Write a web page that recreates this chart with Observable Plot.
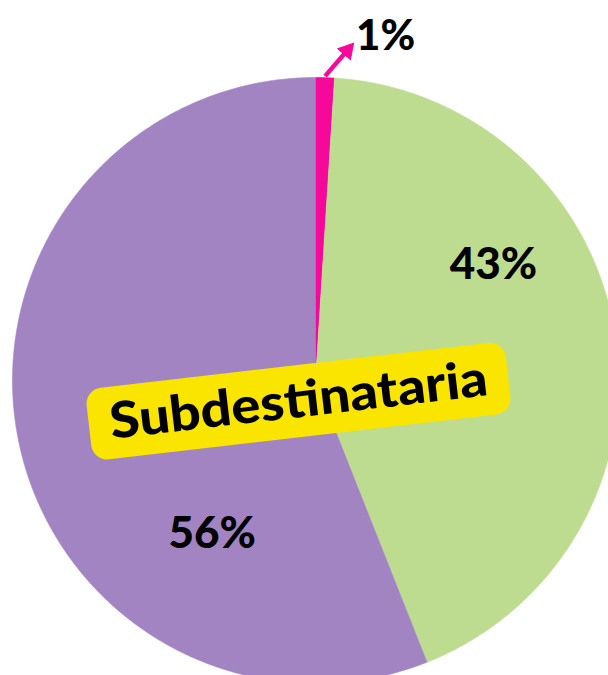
<!DOCTYPE html>
<html><head><meta charset="utf-8">
<script src="https://cdn.jsdelivr.net/npm/d3@7"></script>
<script src="https://cdn.jsdelivr.net/npm/@observablehq/plot@0.6"></script>
<style>html,body{margin:0;padding:0;background:#fff;overflow:hidden;}</style>
</head><body><div id="chart"></div>
<script>
// ---- data ----
const slices = ["Otra", "Verde", "Morado"];
const values = [1, 43, 56];
const labels = ["1%", "43%", "56%"];
const colors = ["#F5089A", "#BEDC8F", "#A284C3"];
const title = "Subdestinataria";

// ---- layout ----
const W = 608, H = 675, CX = 315, CY = 380, R = 303;
const labelPos = [{a: 11.5, r: 1.16}, {a: 57, r: 0.70}, {a: 214, r: 0.61}];
const labelSizes = [42, 44, 44];
const arrowHead = {a: 5.5, r: 1.094};
const box = {x: -0.056, y: -0.068, w: 422, h: 72, rx: 16, rotate: -6.6, size: 50, len: 380};
const font = "Lato, sans-serif";

const rad = d => d * Math.PI / 180;
const arcs = d3.pie().sort(null).value(d => d)(values);
const pts = [];
arcs.forEach((a, i) => {
  pts.push({slice: slices[i], x: 0, y: 0});
  const n = Math.max(2, Math.ceil((a.endAngle - a.startAngle) / rad(0.5)));
  for (let k = 0; k <= n; k++) {
    const t = a.startAngle + (a.endAngle - a.startAngle) * k / n;
    pts.push({slice: slices[i], x: Math.sin(t), y: Math.cos(t)});
  }
});
const labelData = labels.map((l, i) => ({
  label: l,
  x: labelPos[i].r * Math.sin(rad(labelPos[i].a)),
  y: labelPos[i].r * Math.cos(rad(labelPos[i].a)),
  size: labelSizes[i]
}));
const mid0 = (arcs[0].startAngle + arcs[0].endAngle) / 2;
const ax1 = 1.005 * Math.sin(mid0), ay1 = 1.005 * Math.cos(mid0);
const ax2 = arrowHead.r * Math.sin(rad(arrowHead.a)), ay2 = arrowHead.r * Math.cos(rad(arrowHead.a));
const arrowData = [{x1: ax1, y1: ay1, x2: ax2, y2: ay2,
  rot: Math.atan2(ax2 - ax1, ay2 - ay1) * 180 / Math.PI}];

const chart = Plot.plot({
  width: W, height: H, margin: 0,
  style: {overflow: "hidden", background: "#fff"},
  x: {domain: [-CX / R, (W - CX) / R], axis: null},
  y: {domain: [-(H - CY) / R, CY / R], axis: null},
  color: {domain: slices, range: colors},
  marks: [
    Plot.line(pts, {x: "x", y: "y", z: "slice", fill: "slice", stroke: "slice", strokeWidth: 0.6, curve: "linear"}),
    Plot.link(arrowData, {x1: "x1", y1: "y1", x2: "x2", y2: "y2", stroke: colors[0], strokeWidth: 4.5}),
    Plot.dot(arrowData, {x: "x2", y: "y2", symbol: "triangle", r: 6.2, rotate: "rot", fill: colors[0], stroke: colors[0], strokeWidth: 1}),
    Plot.text(labelData, {x: "x", y: "y", text: "label", fontSize: d => d.size, fontWeight: 900, fontFamily: font, fill: "#000"}),
    Plot.text([title], {x: () => box.x, y: () => box.y, text: d => d, rotate: box.rotate, fontSize: box.size, fontWeight: 900, fontFamily: font, fill: "#000"})
  ]
});

// yellow rounded label box behind the title
const tNode = Array.from(chart.querySelectorAll("text")).find(t => t.textContent === title);
tNode.setAttribute("textLength", box.len);
tNode.setAttribute("lengthAdjust", "spacingAndGlyphs");
const px = chart.scale("x").apply(box.x), py = chart.scale("y").apply(box.y);
d3.select(tNode.parentNode).insert("rect", "text")
  .attr("x", -box.w / 2).attr("y", -box.h / 2)
  .attr("width", box.w).attr("height", box.h)
  .attr("rx", box.rx).attr("ry", box.rx)
  .attr("fill", "#FAE500")
  .attr("transform", `translate(${px},${py}) rotate(${box.rotate})`);
document.getElementById("chart").appendChild(chart);
</script>
</body></html>
